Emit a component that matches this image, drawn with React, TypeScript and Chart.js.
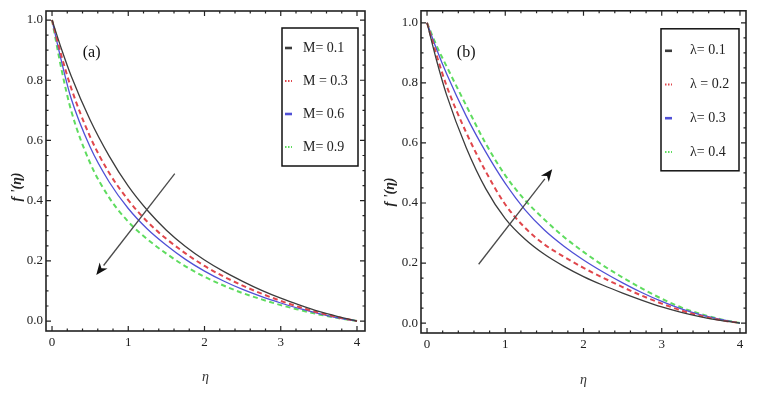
import React, { useEffect, useRef } from "react";
import { Chart, registerables } from "chart.js";

Chart.register(...registerables);

// ---------- data ----------
const ETA = [0, 0.125, 0.25, 0.5, 0.75, 1, 1.25, 1.5, 1.75, 2, 2.25, 2.5, 2.75, 3, 3.25, 3.5, 3.75, 4];

// panel (a): effect of M
const A_LABELS = ["M= 0.1", "M = 0.3", "M= 0.6", "M= 0.9"];
const A_M01 = [1, 0.903, 0.815, 0.668, 0.548, 0.448, 0.368, 0.302, 0.248, 0.203, 0.165, 0.132, 0.102, 0.076, 0.053, 0.032, 0.015, 0];
const A_M03 = [1, 0.88, 0.775, 0.612, 0.492, 0.402, 0.33, 0.273, 0.225, 0.183, 0.148, 0.118, 0.091, 0.067, 0.046, 0.028, 0.013, 0];
const A_M06 = [1, 0.862, 0.74, 0.578, 0.462, 0.374, 0.306, 0.252, 0.205, 0.166, 0.133, 0.105, 0.081, 0.06, 0.041, 0.025, 0.011, 0];
const A_M09 = [1, 0.835, 0.7, 0.525, 0.41, 0.33, 0.272, 0.224, 0.182, 0.147, 0.118, 0.093, 0.072, 0.053, 0.037, 0.022, 0.01, 0];

// panel (b): effect of lambda
const B_LABELS = ["λ= 0.1", "λ = 0.2", "λ= 0.3", "λ= 0.4"];
const B_L01 = [1, 0.872, 0.76, 0.585, 0.448, 0.348, 0.28, 0.229, 0.189, 0.155, 0.126, 0.1, 0.076, 0.054, 0.036, 0.021, 0.009, 0];
const B_L02 = [1, 0.89, 0.79, 0.635, 0.505, 0.395, 0.318, 0.262, 0.221, 0.184, 0.151, 0.12, 0.091, 0.065, 0.042, 0.024, 0.01, 0];
const B_L03 = [1, 0.91, 0.83, 0.69, 0.57, 0.465, 0.378, 0.31, 0.256, 0.21, 0.17, 0.134, 0.101, 0.072, 0.047, 0.027, 0.012, 0];
const B_L04 = [1, 0.922, 0.855, 0.725, 0.598, 0.492, 0.41, 0.345, 0.287, 0.237, 0.192, 0.152, 0.115, 0.081, 0.052, 0.03, 0.013, 0];

const X_TICKS = [0, 1, 2, 3, 4];
const Y_TICKS = [0, 0.2, 0.4, 0.6, 0.8, 1.0];

// arrows in data units
const A_ARROW_FROM = [1.61, 0.49];
const A_ARROW_TO = [0.58, 0.153];
const B_ARROW_FROM = [0.66, 0.196];
const B_ARROW_TO = [1.6, 0.512];

const A_TAG_POS = [0.52, 0.89];
const B_TAG_POS = [0.5, 0.9];

// ---------- styles ----------
const STYLES = [
  { color: "#3c3c3c", dash: [] as number[], width: 1.3, legendDash: [] as number[] },
  { color: "#e0474c", dash: [5, 3.5], width: 2, legendDash: [1.5, 1.5] },
  { color: "#5050d6", dash: [] as number[], width: 1.3, legendDash: [] as number[] },
  { color: "#5fdc5f", dash: [5, 3.5], width: 2, legendDash: [1.5, 1.5] },
];
const SERIF = "'Liberation Serif', 'Times New Roman', serif";

type Spec = {
  labels: string[];
  series: number[][];
  xMin: number; xMax: number; yMin: number; yMax: number;
  yAxisWidth: number; xAxisHeight: number; padTop: number; padRight: number;
  width: number; left: number;
  tag: string; tagPos: number[];
  arrowFrom: number[]; arrowTo: number[];
  yTitleX: number; yTitleY: number; xTitlePad: number;
  legend: { rightGap: number; topGap: number; w: number; h: number; rowTop: number; rowGap: number; sampleX: number; textX: number };
};

const SPEC_A: Spec = {
  labels: A_LABELS,
  series: [A_M01, A_M03, A_M06, A_M09],
  xMin: -0.079, xMax: 4.105, yMin: -0.033, yMax: 1.03,
  yAxisWidth: 46, xAxisHeight: 66, padTop: 11, padRight: 13,
  width: 378, left: 0,
  tag: "(a)", tagPos: A_TAG_POS,
  arrowFrom: A_ARROW_FROM, arrowTo: A_ARROW_TO,
  yTitleX: 17, yTitleY: 187, xTitlePad: 11.6,
  legend: { rightGap: 7, topGap: 17, w: 76, h: 138, rowTop: 20, rowGap: 33, sampleX: 3, textX: 21 },
};

const SPEC_B: Spec = {
  labels: B_LABELS,
  series: [B_L01, B_L02, B_L03, B_L04],
  xMin: -0.077, xMax: 4.077, yMin: -0.033, yMax: 1.04,
  yAxisWidth: 43, xAxisHeight: 64, padTop: 10, padRight: 11,
  width: 379, left: 378,
  tag: "(b)", tagPos: B_TAG_POS,
  arrowFrom: B_ARROW_FROM, arrowTo: B_ARROW_TO,
  yTitleX: 12, yTitleY: 192, xTitlePad: 8.6,
  legend: { rightGap: 7, topGap: 18, w: 78, h: 142, rowTop: 22, rowGap: 33.7, sampleX: 4, textX: 29 },
};

function makeDecorPlugin(spec: Spec) {
  return {
    id: "decor",
    afterDatasetsDraw(chart: any) {
      const { ctx, chartArea } = chart;
      const xs = chart.scales.x;
      const ys = chart.scales.y;
      const { left, right, top, bottom } = chartArea;
      ctx.save();
      // frame
      ctx.strokeStyle = "#222";
      ctx.lineWidth = 1.6;
      ctx.setLineDash([]);
      ctx.strokeRect(left, top, right - left, bottom - top);
      // inward ticks
      ctx.lineWidth = 1.2;
      ctx.beginPath();
      for (let i = 0; i <= 20; i++) {
        const v = i * 0.2;
        const major = i % 5 === 0;
        const len = major ? 5 : 2.5;
        const px = xs.getPixelForValue(v);
        ctx.moveTo(px, bottom); ctx.lineTo(px, bottom - len);
        ctx.moveTo(px, top); ctx.lineTo(px, top + len);
      }
      for (let i = 0; i <= 20; i++) {
        const v = i * 0.05;
        const major = i % 4 === 0;
        const len = major ? 5 : 2.5;
        const py = ys.getPixelForValue(v);
        ctx.moveTo(left, py); ctx.lineTo(left + len, py);
        ctx.moveTo(right, py); ctx.lineTo(right - len, py);
      }
      ctx.stroke();

      // arrow
      const x0 = xs.getPixelForValue(spec.arrowFrom[0]);
      const y0 = ys.getPixelForValue(spec.arrowFrom[1]);
      const x1 = xs.getPixelForValue(spec.arrowTo[0]);
      const y1 = ys.getPixelForValue(spec.arrowTo[1]);
      const ang = Math.atan2(y1 - y0, x1 - x0);
      const headLen = 12, headW = 5;
      const bx = x1 - headLen * Math.cos(ang);
      const by = y1 - headLen * Math.sin(ang);
      ctx.strokeStyle = "#4a4a4a";
      ctx.lineWidth = 1.3;
      ctx.beginPath();
      ctx.moveTo(x0, y0); ctx.lineTo(bx, by);
      ctx.stroke();
      ctx.fillStyle = "#111";
      ctx.beginPath();
      ctx.moveTo(x1, y1);
      ctx.lineTo(bx + headW * Math.sin(ang), by - headW * Math.cos(ang));
      ctx.lineTo(x1 - headLen * 0.7 * Math.cos(ang), y1 - headLen * 0.7 * Math.sin(ang));
      ctx.lineTo(bx - headW * Math.sin(ang), by + headW * Math.cos(ang));
      ctx.closePath();
      ctx.fill();

      // tag
      ctx.fillStyle = "#111";
      ctx.font = `16px ${SERIF}`;
      ctx.textAlign = "center";
      ctx.textBaseline = "middle";
      ctx.fillText(spec.tag, xs.getPixelForValue(spec.tagPos[0]), ys.getPixelForValue(spec.tagPos[1]));

      // legend
      const L = spec.legend;
      const bxL = right - L.rightGap - L.w;
      const byT = top + L.topGap;
      ctx.fillStyle = "#fff";
      ctx.fillRect(bxL, byT, L.w, L.h);
      ctx.strokeStyle = "#111";
      ctx.lineWidth = 1.5;
      ctx.strokeRect(bxL, byT, L.w, L.h);
      chart.data.datasets.forEach((ds: any, i: number) => {
        const st = STYLES[i];
        const ry = byT + L.rowTop + i * L.rowGap;
        ctx.strokeStyle = st.color;
        ctx.lineWidth = st.legendDash.length ? 2 : 2.6;
        ctx.setLineDash(st.legendDash);
        ctx.beginPath();
        ctx.moveTo(bxL + L.sampleX, ry);
        ctx.lineTo(bxL + L.sampleX + 7, ry);
        ctx.stroke();
        ctx.setLineDash([]);
        ctx.fillStyle = "#222";
        ctx.font = `14px ${SERIF}`;
        ctx.textAlign = "left";
        ctx.textBaseline = "middle";
        ctx.fillText(ds.label, bxL + L.textX, ry);
      });

      // y title
      ctx.save();
      ctx.translate(spec.yTitleX, spec.yTitleY);
      ctx.rotate(-Math.PI / 2);
      ctx.fillStyle = "#222";
      ctx.font = `italic bold 14px ${SERIF}`;
      ctx.textAlign = "center";
      ctx.textBaseline = "middle";
      ctx.fillText("f '(η)", 0, 0);
      ctx.restore();

      ctx.restore();
    },
  };
}

function Panel({ spec }: { spec: Spec }) {
  const ref = useRef<HTMLCanvasElement | null>(null);
  useEffect(() => {
    if (!ref.current) return;
    const datasets = spec.series.map((vals, i) => ({
      label: spec.labels[i],
      data: ETA.map((x, j) => ({ x, y: vals[j] })),
      borderColor: STYLES[i].color,
      borderDash: STYLES[i].dash,
      borderWidth: STYLES[i].width,
      pointRadius: 0,
      fill: false,
      cubicInterpolationMode: "monotone" as const,
    }));
    const chart = new Chart(ref.current, {
      type: "line",
      data: { datasets },
      options: {
        animation: false,
        responsive: false,
        devicePixelRatio: 1,
        layout: { padding: { top: spec.padTop, right: spec.padRight, left: 0, bottom: 0 } },
        plugins: { legend: { display: false }, tooltip: { enabled: false } },
        scales: {
          x: {
            type: "linear",
            min: spec.xMin,
            max: spec.xMax,
            grid: { display: false, drawTicks: false },
            border: { display: false },
            afterBuildTicks: (s: any) => { s.ticks = X_TICKS.map((v) => ({ value: v })); },
            afterFit: (s: any) => { s.height = spec.xAxisHeight; },
            ticks: {
              padding: 4,
              color: "#222",
              font: { family: SERIF, size: 13 },
              callback: (v: any) => String(v),
              maxRotation: 0,
            },
            title: {
              display: true,
              text: "η",
              color: "#333",
              font: { family: SERIF, size: 14, style: "italic" },
              padding: { top: 0, bottom: spec.xTitlePad },
            },
          },
          y: {
            type: "linear",
            min: spec.yMin,
            max: spec.yMax,
            grid: { display: false, drawTicks: false },
            border: { display: false },
            afterBuildTicks: (s: any) => { s.ticks = Y_TICKS.map((v) => ({ value: v })); },
            afterFit: (s: any) => { s.width = spec.yAxisWidth; },
            ticks: {
              padding: 3,
              color: "#222",
              font: { family: SERIF, size: 13 },
              callback: (v: any) => Number(v).toFixed(1),
            },
          },
        },
      },
      plugins: [makeDecorPlugin(spec)],
    } as any);
    return () => chart.destroy();
  }, [spec]);
  return (
    <canvas
      ref={ref}
      width={spec.width}
      height={397}
      style={{ position: "absolute", left: spec.left, top: 0, width: spec.width, height: 397 }}
    />
  );
}

export default function App() {
  return (
    <div style={{ position: "absolute", left: 0, top: 0, width: 757, height: 397, background: "#fff" }}>
      <Panel spec={SPEC_A} />
      <Panel spec={SPEC_B} />
    </div>
  );
}
